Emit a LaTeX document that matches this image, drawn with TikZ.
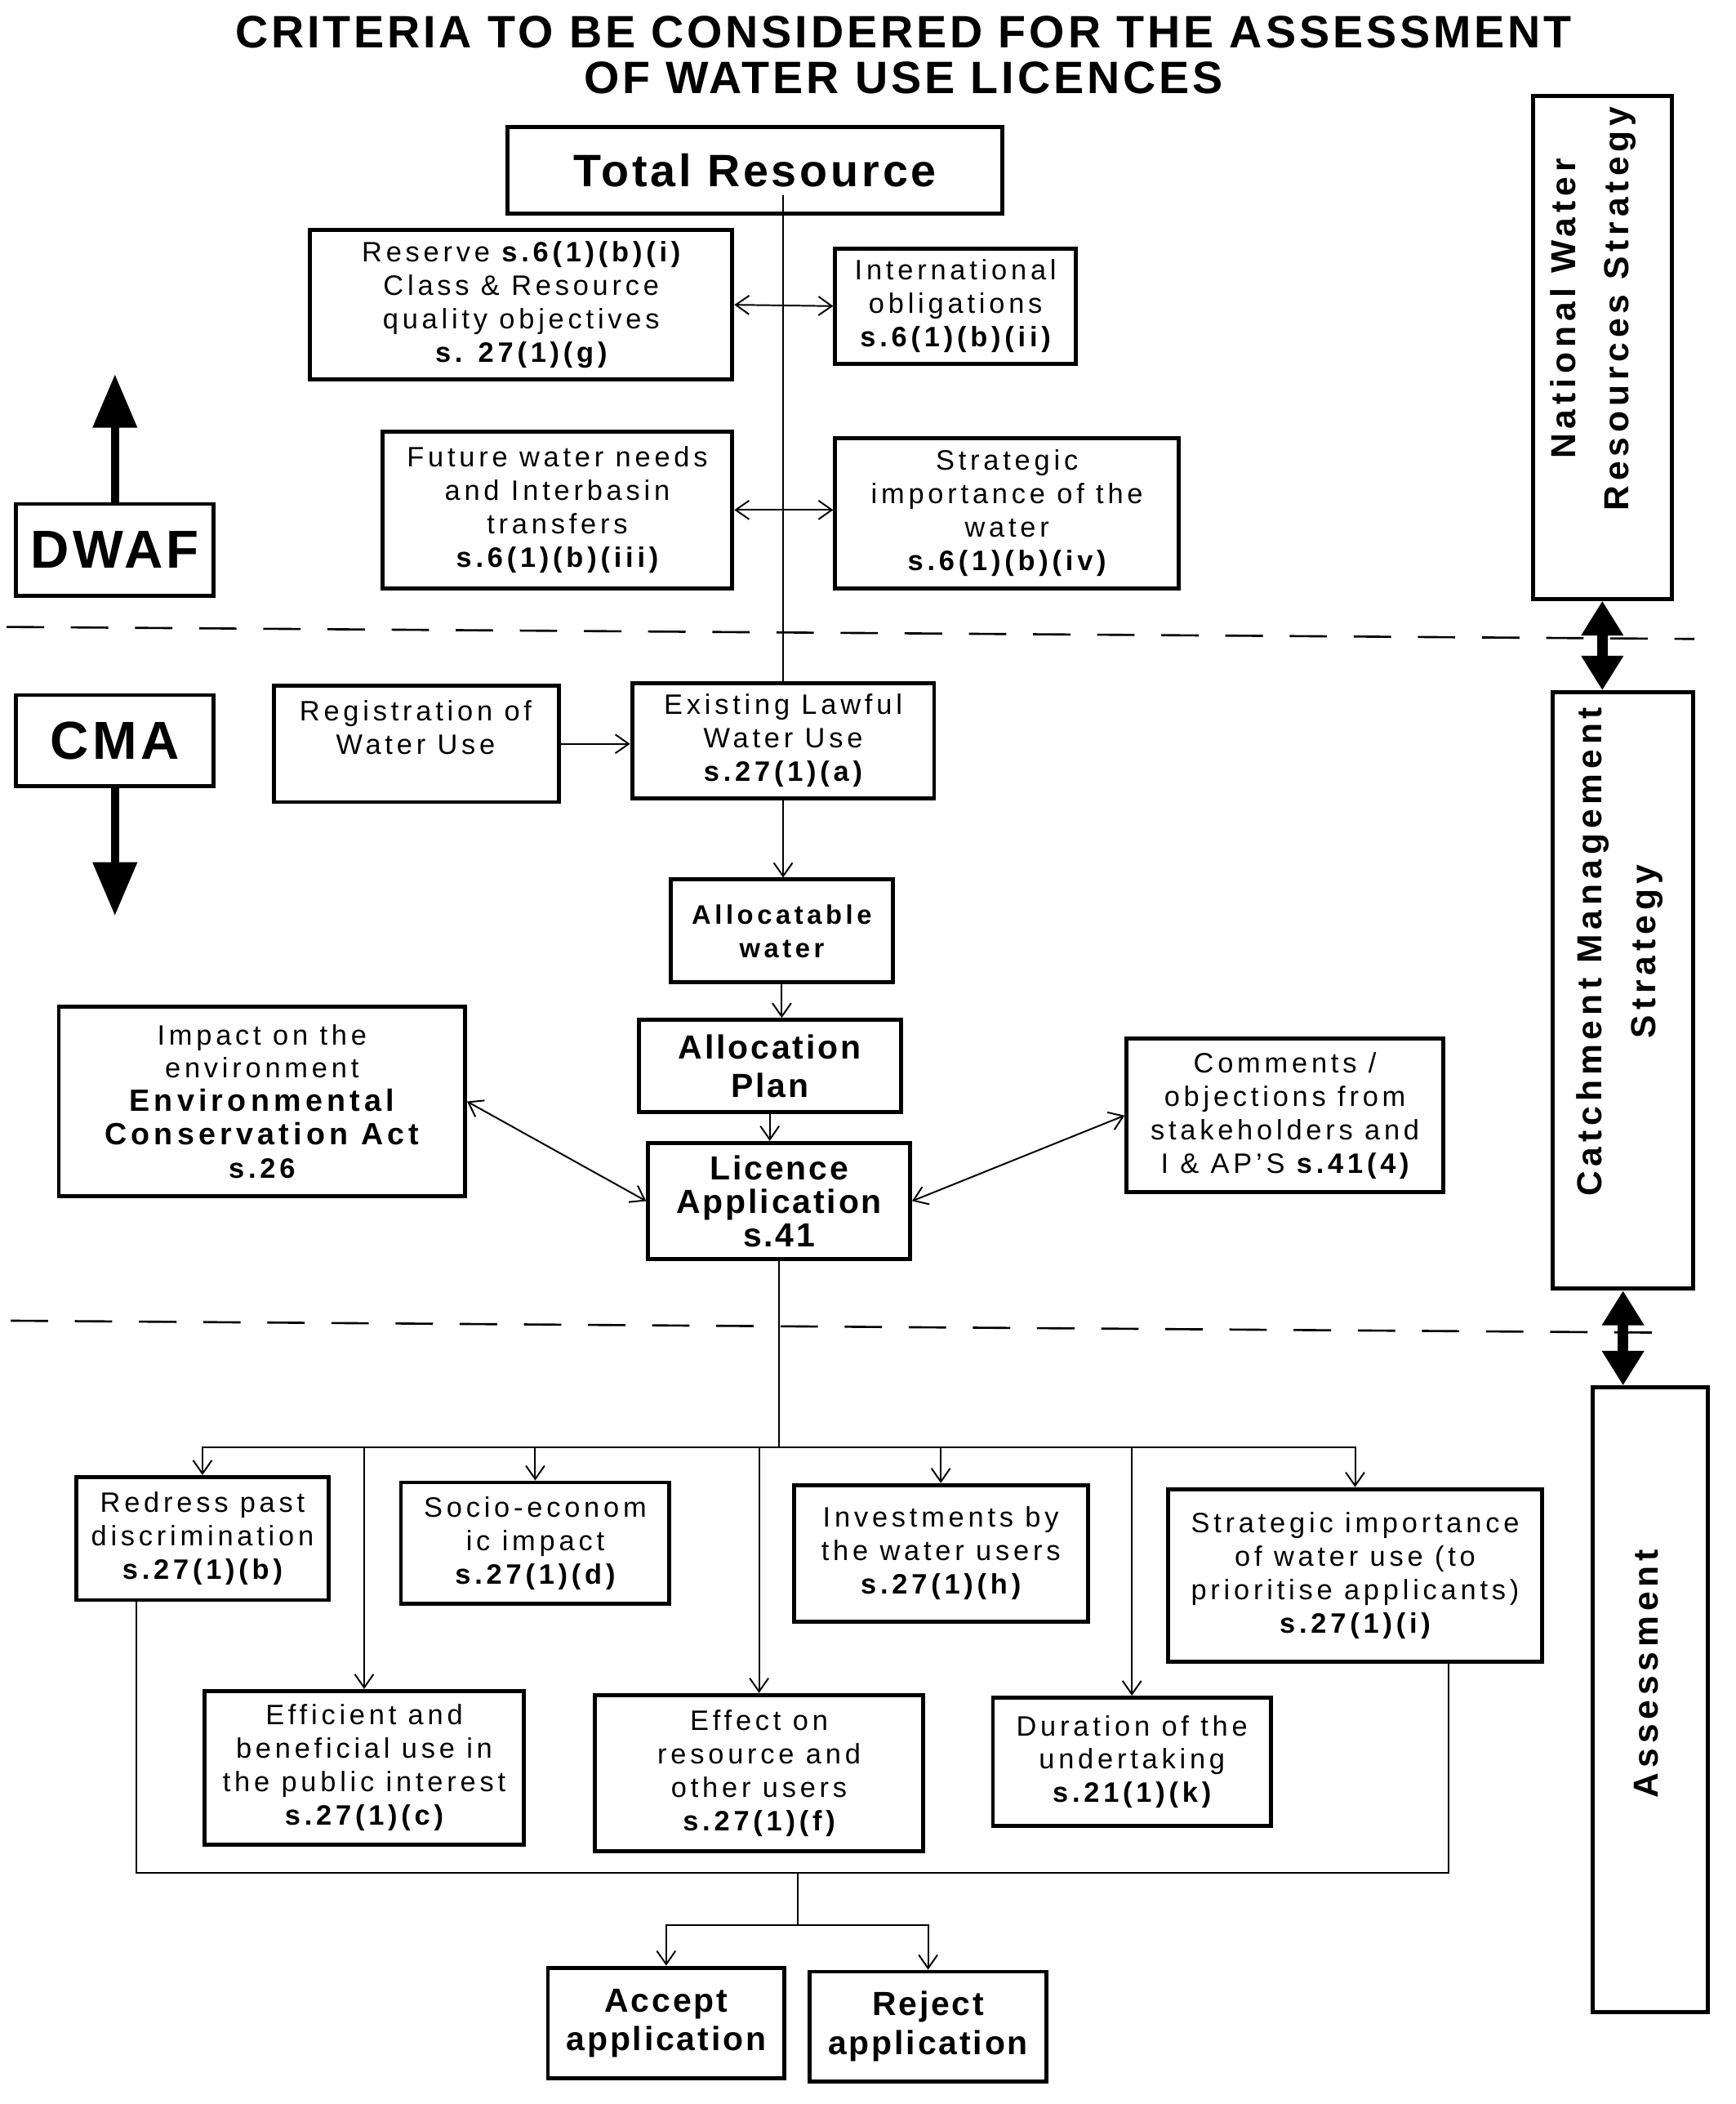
\documentclass[tikz,border=0pt]{standalone}
\usepackage{fontspec}
\setmainfont{Liberation Sans}[LetterSpace=14]
\newfontfamily\tightfont{Liberation Sans}[LetterSpace=7]
\usetikzlibrary{arrows.meta}
\newcommand{\bx}[7][]{\node[box,minimum width={(#5-#3)*0.5pt},minimum height={(#6-#4)*0.5pt},#1] (#2) at ({(#3+#5)/2},{(#4+#6)/2}) {#7};}
\newcommand{\Bf}[1]{{\bfseries #1}}
\begin{document}
\begin{tikzpicture}[x=0.5pt,y=-0.5pt,
 box/.style={draw,line width=1.5pt,inner sep=1pt,align=center,font=\fontsize{10.5}{12.5}\selectfont},
 bigbold/.style={font=\tightfont\fontsize{12.5}{14.5}\selectfont\bfseries},
 conn/.style={line width=0.6pt,-{Straight Barb[length=5pt,width=7pt]}},
 dconn/.style={line width=0.6pt,{Straight Barb[length=5pt,width=7pt]}-{Straight Barb[length=5pt,width=7pt]}},
 wire/.style={line width=0.6pt},
 bigarrow/.style={line width=3pt,-{Triangle[length=20pt,width=16pt]}},
 bigdbl/.style={line width=4pt,{Triangle[length=13pt,width=15pt]}-{Triangle[length=13pt,width=15pt]}},
 divider/.style={line width=0.8pt,dash pattern=on 14pt off 10pt},
 rot/.style={rotate=90,align=center,font=\fontsize{13}{20}\selectfont\bfseries}]
\useasboundingbox (0,0) rectangle (1299,1574);

% title
\node[align=center,font=\tightfont\fontsize{17}{17}\selectfont\bfseries] (title) at (676,41)
  {CRITERIA TO BE CONSIDERED FOR THE ASSESSMENT\\OF WATER USE LICENCES};

% DWAF level
\bx[font=\tightfont\fontsize{17}{20}\selectfont\bfseries]{tr}{380}{95}{750}{160}{Total Resource}
\bx{res}{232}{172}{548}{284}{Reserve \Bf{s.6(1)(b)(i)}\\Class \& Resource\\quality objectives\\\Bf{s. 27(1)(g)}}
\bx{intl}{625}{186}{805}{272}{International\\obligations\\\Bf{s.6(1)(b)(ii)}}
\bx{fut}{286}{323}{548}{440}{Future water needs\\and Interbasin\\transfers\\\Bf{s.6(1)(b)(iii)}}
\bx{strat}{625}{328}{882}{440}{Strategic\\importance of the\\water\\\Bf{s.6(1)(b)(iv)}}
\bx[font=\tightfont\fontsize{20}{24}\selectfont\bfseries]{dwaf}{12}{377}{160}{446}{DWAF}
\bx{nwrs}{1147}{72}{1251}{448}{}
\node[rot] (nwrst) at (1192,231) {National Water\\Resources Strategy};

% CMA level
\bx[font=\tightfont\fontsize{20}{24}\selectfont\bfseries]{cma}{12}{520}{160}{588}{CMA}
\bx{reg}{205}{513}{418}{600}{}
\node[align=center,font=\fontsize{10.5}{12.5}\selectfont] (regt) at (311,544) {Registration of\\Water Use};
\bx{elu}{473}{511}{699}{597}{Existing Lawful\\Water Use\\\Bf{s.27(1)(a)}}
\bx[font=\fontsize{10}{12.5}\selectfont\bfseries]{alw}{502}{658}{668}{735}{Allocatable\\water}
\bx[bigbold]{alp}{478}{763}{674}{832}{Allocation\\Plan}
\bx[font=\tightfont\fontsize{12.5}{12.5}\selectfont\bfseries]{lic}{485}{855}{681}{942}{Licence\\Application\\s.41}
\bx{imp}{44}{753}{348}{895}{Impact on the\\environment\\{\fontsize{11.5}{12.5}\selectfont\bfseries Environmental}\\{\fontsize{11.5}{12.5}\selectfont\bfseries Conservation Act}\\\Bf{s.26}}
\bx{com}{843}{777}{1080}{892}{Comments /\\objections from\\stakeholders and\\I \& AP'S \Bf{s.41(4)}}
\bx{cms}{1162}{518}{1267}{964}{}
\node[rot] (cmst) at (1212,712) {Catchment Management\\Strategy};

% Assessment level
\bx{ass}{1192}{1038}{1278}{1505}{}
\node[rot] (asst) at (1232,1252) {Assessment};
\bx{red}{57}{1105}{246}{1197}{Redress past\\discrimination\\\Bf{s.27(1)(b)}}
\bx{soc}{300}{1109}{501}{1200}{Socio-econom\\ic impact\\\Bf{s.27(1)(d)}}
\bx{inv}{594}{1111}{814}{1213}{Investments by\\the water users\\\Bf{s.27(1)(h)}}
\bx{spa}{874}{1114}{1154}{1243}{Strategic importance\\of water use (to\\prioritise applicants)\\\Bf{s.27(1)(i)}}
\bx{eff}{153}{1265}{392}{1380}{Efficient and\\beneficial use in\\the public interest\\\Bf{s.27(1)(c)}}
\bx{efr}{445}{1268}{691}{1385}{Effect on\\resource and\\other users\\\Bf{s.27(1)(f)}}
\bx{dur}{743}{1270}{951}{1366}{Duration of the\\undertaking\\\Bf{s.21(1)(k)}}
\bx[bigbold]{acc}{410}{1472}{587}{1555}{Accept\\application}
\bx[bigbold]{rej}{606}{1475}{783}{1557}{Reject\\application}

% dividers
\coordinate (d1a) at (5,469); \coordinate (d1b) at (1268,478);
\coordinate (d2a) at (8,988); \coordinate (d2b) at (1250,997);
\draw[divider] (d1a) -- (d1b);
\draw[divider] (d2a) -- (d2b);

% big arrows
\coordinate (dwafup) at (86,280);
\coordinate (cmadown) at (86,685);
\draw[bigarrow] (dwaf.north) -- (dwafup);
\draw[bigarrow] (cma.south) -- (cmadown);
\draw[bigdbl] (nwrs.south) -- (nwrs.south |- cms.north);
\draw[bigdbl] (cms.south) -- (cms.south |- ass.north);

% trunk and upper connectors
\coordinate (trk) at (586,146);
\draw[wire] (trk) -- (trk |- elu.north);
\draw[dconn] (res.east) -- (intl.west);
\draw[dconn] (fut.east) -- (fut.east -| strat.west);
\draw[conn] (reg.east) -- (reg.east -| elu.west);
\draw[conn] (elu.south) -- (elu.south |- alw.north);
\draw[conn] (alw.south) -- (alw.south |- alp.north);
\draw[conn] (alp.south) -- (alp.south |- lic.north);
\draw[dconn] (imp.east) -- (lic.west);
\draw[dconn] (com.west) -- (lic.east);

% assessment bus
\coordinate (bus) at (583,1083);
\draw[wire] (lic.south) -- (bus);
\draw[conn] (bus) -| (red.north);
\draw[conn] (bus) -| (soc.north);
\draw[conn] (bus) -| (inv.north);
\draw[conn] (bus) -| (spa.north);
\draw[conn] (bus) -| (eff.north);
\draw[conn] (bus) -| (efr.north);
\draw[conn] (bus) -| (dur.north);

% collector
\coordinate (c1) at (102,1401);
\coordinate (c2) at (1084,1401);
\coordinate (mid) at (597,1401);
\coordinate (split) at (597,1440);
\draw[wire] (c1 |- red.south) -- (c1) -- (c2) -- (c2 |- spa.south);
\draw[wire] (mid) -- (split);
\draw[conn] (split) -| (acc.north);
\draw[conn] (split) -| (rej.north);
\end{tikzpicture}
\end{document}
